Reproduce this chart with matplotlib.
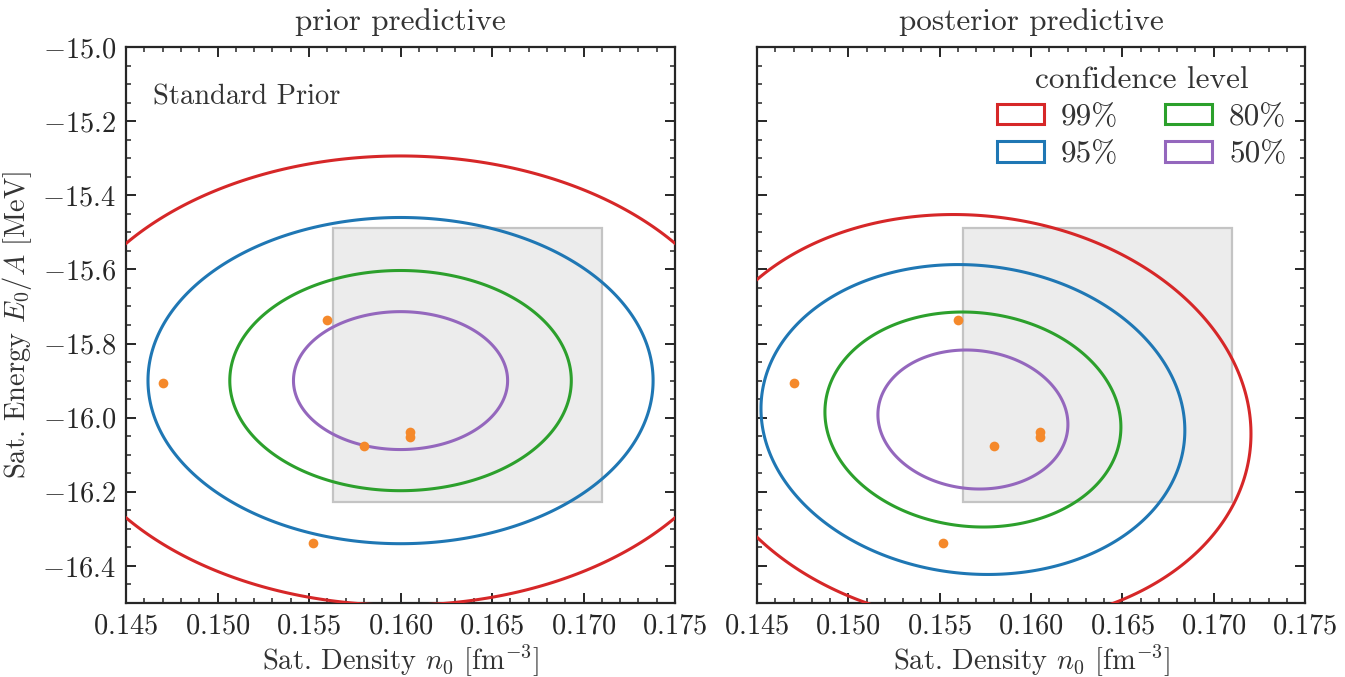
import numpy as np
import matplotlib
matplotlib.use("Agg")
import matplotlib.pyplot as plt
from matplotlib.patches import Rectangle, Patch, Polygon
from matplotlib.ticker import MultipleLocator, FuncFormatter

plt.rcParams.update({
    "font.family": "cmr10",
    "mathtext.fontset": "cm",
    "axes.formatter.use_mathtext": True,
    "font.size": 20.5,
    "xtick.direction": "in",
    "ytick.direction": "in",
    "xtick.top": True,
    "ytick.right": True,
    "xtick.major.size": 7,
    "ytick.major.size": 7,
    "xtick.minor.size": 3.5,
    "ytick.minor.size": 3.5,
    "xtick.major.width": 1.4,
    "ytick.major.width": 1.4,
    "xtick.minor.width": 1.1,
    "ytick.minor.width": 1.1,
    "axes.linewidth": 1.6,
    "axes.edgecolor": "#262626",
    "xtick.color": "#262626",
    "ytick.color": "#262626",
    "text.color": "#333333",
    "axes.labelcolor": "#333333",
})

# Confidence levels and their colours
levels = ["99%", "95%", "80%", "50%"]
level_colors = ["#d62728", "#1f77b4", "#2ca02c", "#9467bd"]

# Prior predictive contours: centre, half-widths (n0), half-heights (E0/A), correlation
prior_center = (0.1600, -15.900)
prior_half_n0 = [0.01894, 0.0138, 0.00933, 0.00585]
prior_half_E0 = [0.606, 0.440, 0.297, 0.186]
prior_rho = 0.0

# Posterior predictive contours
post_center = (0.15682, -16.005)
post_half_n0 = [0.01522, 0.0116, 0.0081, 0.0052]
post_half_E0 = [0.553, 0.418, 0.290, 0.1875]
post_rho = -0.07

# Saturation points of individual interactions
sat_n0 = [0.1470, 0.1560, 0.1580, 0.1605, 0.1605, 0.1552]
sat_E0 = [-15.906, -15.736, -16.076, -16.039, -16.052, -16.338]

# Empirical saturation box
box_n0 = (0.1563, 0.1710)
box_E0 = (-16.227, -15.488)


def ellipse_curve(center, wx, hy, rho, n=400):
    t = np.linspace(0, 2 * np.pi, n, endpoint=False)
    x = center[0] + wx * np.cos(t)
    y = center[1] + hy * (rho * np.cos(t) + np.sqrt(1 - rho ** 2) * np.sin(t))
    return np.column_stack([x, y])


fig = plt.figure(figsize=(13.45, 6.77), dpi=100)
ax1 = fig.add_axes([0.0937, 0.1093, 0.4082, 0.8213])
ax2 = fig.add_axes([0.5628, 0.1093, 0.4075, 0.8213], sharey=ax1)

panels = [
    (ax1, "prior predictive", prior_center, prior_half_n0, prior_half_E0, prior_rho),
    (ax2, "posterior predictive", post_center, post_half_n0, post_half_E0, post_rho),
]

for ax, title, c, wx, hy, rho in panels:
    ax.add_patch(Rectangle((box_n0[0], box_E0[0]), box_n0[1] - box_n0[0],
                           box_E0[1] - box_E0[0], facecolor="#ececec",
                           edgecolor="#c4c4c4", lw=1.6, zorder=1))
    for w, h, col in zip(wx, hy, level_colors):
        ax.add_patch(Polygon(ellipse_curve(c, w, h, rho), closed=True,
                             fill=False, edgecolor=col, lw=2.2, zorder=3))
    ax.plot(sat_n0, sat_E0, "o", color="#f5892b", ms=7, mew=0, zorder=4)
    ax.set_xlim(0.145, 0.175)
    ax.set_ylim(-16.5, -15.0)
    ax.xaxis.set_major_locator(MultipleLocator(0.005))
    ax.xaxis.set_minor_locator(MultipleLocator(0.001))
    ax.yaxis.set_major_locator(MultipleLocator(0.2))
    ax.yaxis.set_minor_locator(MultipleLocator(0.05))
    ax.xaxis.set_major_formatter(FuncFormatter(lambda v, p: f"${v:.3f}$"))
    ax.set_title(title, fontsize=22.5, pad=12)
    ax.set_xlabel(r"Sat. Density $n_0$ [fm$^{-3}$]", fontsize=20.5, labelpad=3)
    ax.tick_params(axis="both", which="major", labelsize=20.5, pad=7)

ax1.yaxis.set_major_formatter(FuncFormatter(lambda v, p: f"${v:.1f}$"))
ax1.set_ylabel(r"Sat. Energy $E_0/A$ [MeV]", fontsize=20.5, labelpad=6)
plt.setp(ax2.get_yticklabels(), visible=False)

ax1.text(0.05, 0.91, "Standard Prior", transform=ax1.transAxes,
         fontsize=20.5, va="center", ha="left")

handles = [Patch(facecolor="none", edgecolor=col, lw=2.2, label=lab)
           for col, lab in zip(level_colors, levels)]
leg = ax2.legend(handles=handles, title="confidence level", ncol=2,
                 loc="upper right", frameon=False, fontsize=22.5,
                 title_fontsize=22.5, handlelength=1.5, handleheight=0.65,
                 columnspacing=1.5, handletextpad=0.55, labelspacing=0.3,
                 borderaxespad=0.3, borderpad=0.3)

fig.savefig("out.png", dpi=100)
